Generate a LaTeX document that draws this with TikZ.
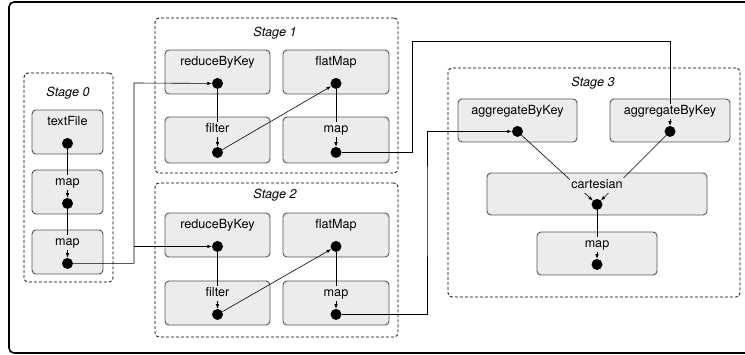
\documentclass[tikz,border=0pt]{standalone}
\usepackage{fontspec}
\setmainfont{TeX Gyre Heros}
\usetikzlibrary{arrows.meta,positioning}

\definecolor{opfill}{RGB}{236,236,236}
\definecolor{opline}{RGB}{85,85,85}

\begin{document}
\begin{tikzpicture}[x=1pt, y=-1pt,
    opbox/.style={draw=opline, fill=opfill, line width=0.9pt, rounded corners=4pt, inner sep=0pt},
    optext/.style={fill=opfill, inner xsep=1pt, inner ysep=1.5pt, text height=9pt, text depth=2.6pt, font=\fontsize{12.6}{15}\selectfont},
    stagebox/.style={draw, line width=0.8pt, dash pattern=on 3pt off 2pt, rounded corners=4pt, inner sep=0pt},
    stagetext/.style={inner sep=0pt, font=\fontsize{12.6}{15}\selectfont\itshape},
    dot/.style={circle, fill=black, inner sep=0pt, minimum size=11pt},
    flow/.style={->, line width=0.6pt},
    >={Latex[length=4.5pt,width=3.5pt]}]

\clip (0,0) rectangle (745,355);

% outer frame
\draw[line width=1.6pt, rounded corners=5pt] (9,2) rectangle (752,353);

% stages
\node[stagebox, minimum width=89pt, minimum height=209pt] (st0) at (68.5,177.5) {};
\node[stagebox, minimum width=243pt, minimum height=155pt] (st1) at (276.5,95.5) {};
\node[stagebox, minimum width=243pt, minimum height=154pt] (st2) at (276.5,260) {};
\node[stagebox, minimum width=292pt, minimum height=229pt] (st3) at (594,182.5) {};

\node[stagetext] (st0-t) at (68,93) {Stage 0};
\node[stagetext] (st1-t) at (275,33) {Stage 1};
\node[stagetext] (st2-t) at (275,195) {Stage 2};
\node[stagetext] (st3-t) at (593,83) {Stage 3};

% operations
\foreach \n/\cx/\cy/\w/\h in {
    s0a/67.5/132/71/44, s0b/67.5/192/71/44, s0c/67.5/252/71/44,
    s1a/217.5/72/105/44, s1b/336/72/106/44, s1c/217.5/140/105/46, s1d/336/140/106/46,
    s2a/217.5/235/105/44, s2b/336/235/106/44, s2c/217.5/303/105/44, s2d/336/303/106/44,
    s3a/517.5/120.5/119/43, s3b/670/120.5/120/43,
    s3c/597/194/220/42, s3d/597/253.5/120/43}
{
    \node[opbox, minimum width=\w pt, minimum height=\h pt] (\n) at (\cx,\cy) {};
    \node[dot] (\n-d) at ([yshift=11pt]\n.south) {};
}

% inside the stages
\draw[flow] (s0a-d) -- (s0b-d);
\draw[flow] (s0b-d) -- (s0c-d);

\draw[flow] (s1a-d) -- (s1c-d);
\draw[flow] (s1c-d) -- (s1b-d);
\draw[flow] (s1b-d) -- (s1d-d);

\draw[flow] (s2a-d) -- (s2c-d);
\draw[flow] (s2c-d) -- (s2b-d);
\draw[flow] (s2b-d) -- (s2d-d);

\draw[flow] (s3a-d) -- (s3c-d);
\draw[flow] (s3b-d) -- (s3c-d);
\draw[flow] (s3c-d) -- (s3d-d);

% between the stages
\coordinate (j0) at (134,83);
\coordinate (j1) at (412,41);
\coordinate (j2) at (427,200);

\draw[flow] (s0c-d) -| (j0) -- (s1a-d);
\draw[flow] (j0 |- s2a-d) -- (s2a-d);
\draw[flow] (s1d-d) -| (j1) -| (s3b-d);
\draw[flow] (s2d-d) -| (j2) |- (s3a-d);

% names on top of the lines
\foreach \n/\t in {
    s0a/textFile, s0b/map, s0c/map,
    s1a/reduceByKey, s1b/flatMap, s1c/filter, s1d/map,
    s2a/reduceByKey, s2b/flatMap, s2c/filter, s2d/map,
    s3a/aggregateByKey, s3b/aggregateByKey, s3c/cartesian, s3d/map}
    \node[optext] (\n-t) at ([yshift=-13pt]\n.north) {\t};

\end{tikzpicture}
\end{document}
